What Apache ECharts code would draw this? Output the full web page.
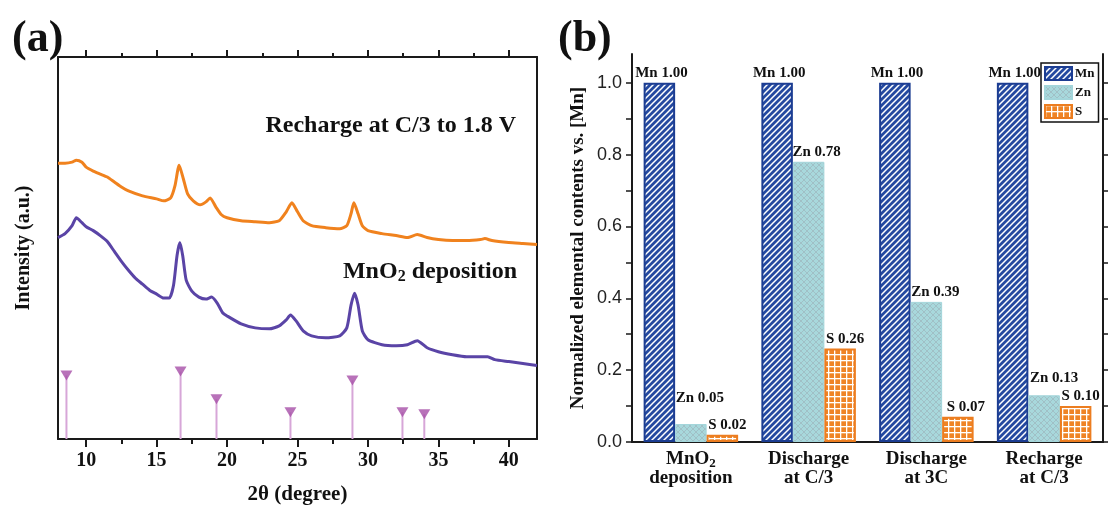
<!DOCTYPE html>
<html>
<head>
<meta charset="utf-8">
<script src="https://cdn.jsdelivr.net/npm/echarts@6/dist/echarts.min.js"></script>
<style>
  html, body { margin: 0; padding: 0; background: #fff; }
  #main { width: 1108px; height: 510px; }
</style>
</head>
<body>
<div id="main"></div>
<script>
// (a) XRD patterns, intensity in arbitrary units
let twoThetaRe = [8,8.5,9,9.3,9.7,10,10.5,11,11.5,12,12.5,13,14,15,15.5,16,16.3,16.6,16.9,17.2,17.6,18.1,18.5,18.8,19.2,19.6,20,21,22,23,23.7,24.2,24.6,25,25.4,26,27,28,28.5,28.8,29,29.3,29.6,30,31,32,32.8,33.5,34.2,35,36,37,38,38.3,38.8,40,41,42];
let intensityRe = [278,278,279,281,279,274,270,267,264,259,254,250,245,242,240,243,255,276,262,247,240,236,239,243,234,226,223,220,219,218,220,229,238,229,220,215,213,212,215,227,238,227,215,210,207,205,203,206,203,201,200,200,201,202,200,198,197,196];
let twoThetaDep = [8,8.5,9,9.3,9.7,10,10.5,11,11.5,12,12.5,13,13.5,14,14.5,15,15.5,15.9,16.2,16.45,16.65,16.85,17.1,17.5,18,18.5,18.9,19.3,19.7,20,21,22,23,23.7,24.2,24.5,24.9,25.4,26,27,28,28.5,28.8,29.05,29.3,29.6,30,31,32,32.8,33.5,34.2,35,36,37,38,38.5,39,40,41,42];
let intensityDep = [203,207,215,223,218,214,210,205,199,189,179,170,162,156,150,146,142,142,155,185,198,185,160,149,143,141,143,137,127,124,116,112,111,114,120,125,119,109,104,102,104,112,135,147,135,109,100,95,94,95,99,92,88,85,83,83,83,80,78,76,74];
let refTwoTheta = [8.6,16.7,19.25,24.5,28.9,32.45,34.0];
let refIntensity = [64,68,40,27,59,27,25];
let xMajorTicks = [10,15,20,25,30,35,40];
let xMinorTicks = [12.5,17.5,22.5,27.5,32.5,37.5];

// (b) normalized elemental contents
let stageNames = ['{n|MnO}{s|2}\ndeposition', 'Discharge\nat C/3', 'Discharge\nat 3C', 'Recharge\nat C/3'];
let mnArr = [1.00, 1.00, 1.00, 1.00];
let znArr = [0.05, 0.78, 0.39, 0.13];
let sArr = [0.02, 0.26, 0.07, 0.10];
let yMajorTicks = [0, 0.2, 0.4, 0.6, 0.8, 1.0];
let yAllTicks = [0, 0.1, 0.2, 0.3, 0.4, 0.5, 0.6, 0.7, 0.8, 0.9, 1.0];

const SERIF = "'Liberation Serif', 'Times New Roman', serif";

function zip(xs, ys) {
  return xs.map(function (x, i) { return [x, ys[i]]; });
}

// 填充图案
function makePattern(size, bg, draw) {
  let c = document.createElement('canvas');
  c.width = size; c.height = size;
  let ctx = c.getContext('2d');
  ctx.fillStyle = bg;
  ctx.fillRect(0, 0, size, size);
  draw(ctx, size);
  return { image: c, repeat: 'repeat' };
}

let mnFill = makePattern(6, '#2449a0', function (ctx, s) {
  ctx.strokeStyle = '#ffffff';
  ctx.lineWidth = 1.5;
  ctx.beginPath();
  ctx.moveTo(0, s); ctx.lineTo(s, 0);
  ctx.moveTo(-s / 2, s / 2); ctx.lineTo(s / 2, -s / 2);
  ctx.moveTo(s / 2, s * 1.5); ctx.lineTo(s * 1.5, s / 2);
  ctx.stroke();
});
let znFill = makePattern(6, '#a8d8dc', function (ctx, s) {
  ctx.strokeStyle = 'rgba(150,165,170,0.45)';
  ctx.lineWidth = 1;
  ctx.beginPath();
  ctx.moveTo(0, s); ctx.lineTo(s, 0);
  ctx.moveTo(0, 0); ctx.lineTo(s, s);
  ctx.stroke();
});
let sFill = makePattern(6, '#ef8426', function (ctx, s) {
  ctx.fillStyle = '#ffffff';
  ctx.fillRect(0, 0, s, 1.3);
  ctx.fillRect(0, 0, 1.3, s);
});

let znShift = { 0: [9, -16], 1: [8, 0], 3: [10, -8] };
let sShift = { 2: [8, 0], 3: [5, 0] };

function barData(arr, shift, base) {
  return arr.map(function (v, i) {
    let item = { value: v };
    item.label = { offset: shift[i] || base };
    return item;
  });
}

let myChart = echarts.init(document.getElementById('main'));
let barLabel = {
  show: true,
  position: 'top',
  distance: 2,
  color: '#111',
  fontFamily: SERIF,
  fontWeight: 'bold',
  fontSize: 15,
  formatter: function (p) { return p.seriesName + ' ' + p.value.toFixed(2); }
};
let tickFont = { fontFamily: SERIF, fontWeight: 'bold', fontSize: 20, color: '#111' };
let blackLine = { show: true, lineStyle: { color: '#1a1a1a', width: 2 } };

let option = {
  animation: false,
  backgroundColor: '#fff',
  grid: [
    { left: 58, top: 57, width: 479, height: 385 },
    { left: 632, top: 54, width: 471, height: 388 }
  ],
  xAxis: [
    {
      gridIndex: 0, type: 'value', position: 'bottom', min: 8, max: 42,
      axisLine: blackLine,
      axisTick: { show: true, inside: false, length: 8, customValues: xMajorTicks, lineStyle: { color: '#1a1a1a', width: 2 } },
      axisLabel: Object.assign({ customValues: xMajorTicks, margin: 12 }, tickFont),
      splitLine: { show: false },
      name: '2θ (degree)', nameLocation: 'middle', nameGap: 45,
      nameTextStyle: { fontFamily: SERIF, fontWeight: 'bold', fontSize: 21, color: '#111' }
    },
    {
      gridIndex: 0, type: 'value', position: 'bottom', min: 8, max: 42,
      axisLine: { show: false },
      axisTick: { show: true, length: 5, customValues: xMinorTicks, lineStyle: { color: '#1a1a1a', width: 2 } },
      axisLabel: { show: false }, splitLine: { show: false }
    },
    {
      gridIndex: 0, type: 'value', position: 'top', min: 8, max: 42,
      axisLine: blackLine,
      axisTick: { show: true, length: 7, customValues: xMajorTicks, lineStyle: { color: '#1a1a1a', width: 2 } },
      axisLabel: { show: false }, splitLine: { show: false }
    },
    {
      gridIndex: 0, type: 'value', position: 'top', min: 8, max: 42,
      axisLine: { show: false },
      axisTick: { show: true, length: 4, customValues: xMinorTicks, lineStyle: { color: '#1a1a1a', width: 2 } },
      axisLabel: { show: false }, splitLine: { show: false }
    },
    {
      gridIndex: 1, type: 'category', position: 'bottom', data: stageNames,
      axisLine: blackLine,
      axisTick: { show: false },
      axisLabel: {
        interval: 0, margin: 8, lineHeight: 19,
        fontFamily: SERIF, fontWeight: 'bold', fontSize: 19, color: '#111',
        rich: {
          n: { fontFamily: SERIF, fontWeight: 'bold', fontSize: 19, color: '#111' },
          s: { fontFamily: SERIF, fontWeight: 'bold', fontSize: 13, color: '#111', padding: [8, 0, 0, 0] }
        }
      }
    },
    {
      gridIndex: 1, type: 'category', position: 'top', data: stageNames,
      axisLine: blackLine, axisTick: { show: false }, axisLabel: { show: false }
    }
  ],
  yAxis: [
    {
      gridIndex: 0, type: 'value', position: 'left', min: 0, max: 385,
      axisLine: blackLine, axisTick: { show: false }, axisLabel: { show: false }, splitLine: { show: false },
      name: 'Intensity (a.u.)', nameLocation: 'middle', nameGap: 24,
      nameTextStyle: { fontFamily: SERIF, fontWeight: 'bold', fontSize: 20, color: '#111' }
    },
    {
      gridIndex: 0, type: 'value', position: 'right', min: 0, max: 385,
      axisLine: blackLine, axisTick: { show: false }, axisLabel: { show: false }, splitLine: { show: false }
    },
    {
      gridIndex: 1, type: 'value', position: 'left', min: 0, max: 1.08,
      axisLine: blackLine,
      axisTick: { show: true, length: 6, customValues: yAllTicks, lineStyle: { color: '#1a1a1a', width: 1.5 } },
      axisLabel: {
        customValues: yMajorTicks, margin: 10,
        fontFamily: "'Liberation Sans', Arial, sans-serif", fontSize: 18, color: '#222',
        formatter: function (v) { return v.toFixed(1); }
      },
      splitLine: { show: false },
      name: 'Normalized elemental contents vs. [Mn]', nameLocation: 'middle', nameGap: 44,
      nameTextStyle: { fontFamily: SERIF, fontWeight: 'bold', fontSize: 19, color: '#111' }
    },
    {
      gridIndex: 1, type: 'value', position: 'right', min: 0, max: 1.08,
      axisLine: blackLine,
      axisTick: { show: true, length: 6, customValues: yAllTicks, lineStyle: { color: '#1a1a1a', width: 1.5 } },
      axisLabel: { show: false }, splitLine: { show: false }
    }
  ],
  legend: {
    data: ['Mn', 'Zn', 'S'],
    orient: 'vertical',
    left: 1041, top: 63,
    icon: 'rect',
    itemWidth: 27, itemHeight: 13, itemGap: 4,
    padding: [3, 4, 3, 3],
    borderColor: '#111', borderWidth: 1.5, borderRadius: 0,
    textStyle: { fontFamily: SERIF, fontWeight: 'bold', fontSize: 13, color: '#111', padding: [0, 0, 0, -2] }
  },
  graphic: [
    { type: 'text', x: 12, y: 40, style: { text: '(a)', font: 'bold 44px ' + SERIF, fill: '#111', verticalAlign: 'middle' } },
    { type: 'text', x: 558, y: 40, style: { text: '(b)', font: 'bold 44px ' + SERIF, fill: '#111', verticalAlign: 'middle' } },
    { type: 'text', x: 516, y: 126, style: { text: 'Recharge at C/3 to 1.8 V', font: 'bold 24px ' + SERIF, fill: '#111', align: 'right', verticalAlign: 'middle' } },
    {
      type: 'text', x: 517, y: 272,
      style: {
        text: '{n|MnO}{s|2}{n| deposition}', align: 'right', verticalAlign: 'middle', fill: '#111',
        rich: {
          n: { font: 'bold 24px ' + SERIF, fill: '#111' },
          s: { font: 'bold 16px ' + SERIF, fill: '#111', padding: [10, 0, 0, 0] }
        }
      }
    }
  ],
  series: [
    {
      name: 'Recharge at C/3 to 1.8 V', type: 'line', xAxisIndex: 0, yAxisIndex: 0,
      data: zip(twoThetaRe, intensityRe), smooth: 0.2, symbol: 'none',
      lineStyle: { color: '#f0821e', width: 3 }, itemStyle: { color: '#f0821e' }
    },
    {
      name: 'MnO2 deposition', type: 'line', xAxisIndex: 0, yAxisIndex: 0,
      data: zip(twoThetaDep, intensityDep), smooth: 0.2, symbol: 'none',
      lineStyle: { color: '#5a44a6', width: 3 }, itemStyle: { color: '#5a44a6' }
    },
    {
      name: 'reference', type: 'bar', xAxisIndex: 0, yAxisIndex: 0,
      data: zip(refTwoTheta, refIntensity), barWidth: 2,
      itemStyle: { color: '#d7a6d8' }
    },
    {
      name: 'reference peak', type: 'scatter', xAxisIndex: 0, yAxisIndex: 0,
      data: zip(refTwoTheta, refIntensity), symbol: 'triangle', symbolRotate: 180, symbolSize: [12, 10],
      itemStyle: { color: '#a64fa8' }
    },
    {
      name: 'Mn', type: 'bar', xAxisIndex: 4, yAxisIndex: 2,
      data: barData(mnArr, {}, [2, 0]), barWidth: 31.5, barGap: '0%',
      itemStyle: { color: mnFill, borderColor: '#1c3d92', borderWidth: 2 },
      label: barLabel
    },
    {
      name: 'Zn', type: 'bar', xAxisIndex: 4, yAxisIndex: 2,
      data: barData(znArr, znShift, [9, 0]), barWidth: 31.5, barGap: '0%',
      itemStyle: { color: znFill, borderColor: '#a3d5da', borderWidth: 1 },
      label: barLabel
    },
    {
      name: 'S', type: 'bar', xAxisIndex: 4, yAxisIndex: 2,
      data: barData(sArr, sShift, [5, 0]), barWidth: 31.5, barGap: '0%',
      itemStyle: { color: sFill, borderColor: '#ec7d20', borderWidth: 2 },
      label: barLabel
    }
  ]
};
myChart.setOption(option);
</script>
</body>
</html>
